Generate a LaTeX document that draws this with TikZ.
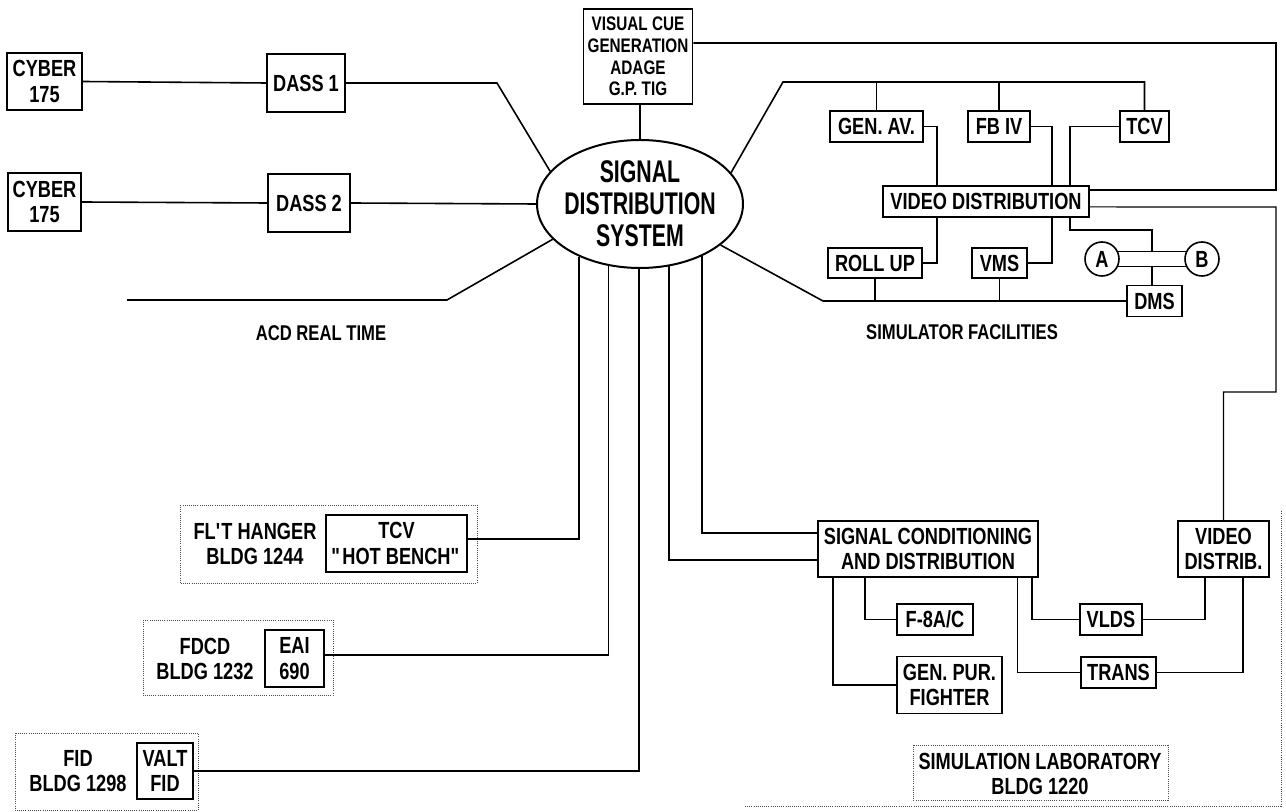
\documentclass[tikz,border=0pt]{standalone}
\usepackage{fontspec}
\setmainfont{Liberation Sans}[FakeStretch=0.78]
\usetikzlibrary{shapes.geometric,calc}

\tikzset{
  wire/.style={line width=1.2pt},
  link/.style={line width=0.8pt},
  lbl/.style={font=\bfseries\fontsize{17.5}{19}\selectfont, align=center, inner sep=0pt},
  unit/.style={lbl, draw, line width=1.2pt},
  hub/.style={ellipse, draw, line width=1.5pt, minimum width=154.5pt, minimum height=96pt,
    inner xsep=-15pt, inner ysep=-5pt, align=center,
    font=\addfontfeatures{FakeStretch=0.68}\bfseries\fontsize{23.5}{24}\selectfont},
  port/.style={lbl, circle, draw, line width=1.2pt, minimum size=25.5pt},
  bldg/.style={densely dotted, line width=0.6pt, black!70},
}

\begin{document}
\begin{tikzpicture}[x=0.75pt,y=0.75pt,yscale=-1,xscale=1]
\useasboundingbox (0,0) rectangle (1286,812);

%Shape: Ellipse
\draw (640,204) node [hub] (sds) {SIGNAL\\DISTRIBUTION\\SYSTEM};

%Shape: Rectangle (left side)
\draw (44.5,81.5) node [unit, minimum width=56pt, minimum height=43pt] (cyberA) {CYBER\\175};
\draw (44.5,202) node [unit, minimum width=55pt, minimum height=43.5pt] (cyberB) {CYBER\\175};
\draw (306,83) node [unit, minimum width=58.5pt, minimum height=43.5pt] (dassA) {DASS 1};
\draw (309,203) node [unit, minimum width=61.5pt, minimum height=43.5pt] (dassB) {DASS 2};
\draw (638,56.5) node [unit, minimum width=82pt, minimum height=71pt, font=\bfseries\fontsize{14.7}{16.3}\selectfont] (cue) {VISUAL CUE\\GENERATION\\ADAGE\\G.P. TIG};

%Shape: Rectangle (simulator facilities)
\draw (876.5,126.5) node [unit, minimum width=70pt, minimum height=23pt] (genav) {GEN. AV.};
\draw (999,126.5) node [unit, minimum width=46.5pt, minimum height=23pt] (fbiv) {FB IV};
\draw (1144.5,126.5) node [unit, minimum width=37pt, minimum height=23pt] (tcv) {TCV};
\draw (986,201.5) node [unit, minimum width=154.5pt, minimum height=23pt] (vdist) {VIDEO DISTRIBUTION};
\draw (875,263) node [unit, minimum width=70.5pt, minimum height=22.5pt] (rollup) {ROLL UP};
\draw (999.5,263) node [unit, minimum width=41pt, minimum height=22.5pt] (vms) {VMS};
\draw (1154.5,301) node [unit, minimum width=41pt, minimum height=23pt] (dms) {DMS};
\draw (1102,259) node [port] (circA) {A};
\draw (1202,259) node [port] (circB) {B};

%Shape: Rectangle (simulation laboratory)
\draw (928,549) node [unit, minimum width=165pt, minimum height=42pt] (sigcond) {SIGNAL CONDITIONING\\AND DISTRIBUTION};
\draw (935,619.5) node [unit, minimum width=57pt, minimum height=23pt] (f8) {F-8A/C};
\draw (949.5,685) node [unit, minimum width=79pt, minimum height=43pt] (gpf) {GEN. PUR.\\FIGHTER};
\draw (1111,619.5) node [unit, minimum width=46.5pt, minimum height=23pt] (vlds) {VLDS};
\draw (1118.5,672.5) node [unit, minimum width=56pt, minimum height=23pt] (trans) {TRANS};
\draw (1223.5,549) node [unit, minimum width=68pt, minimum height=42pt] (vdistrib) {VIDEO\\DISTRIB.};

%Shape: Rectangle (remote buildings)
\draw (396.5,543.5) node [unit, minimum width=106pt, minimum height=43pt] (hotbench) {TCV\\\textquotedbl HOT BENCH\textquotedbl};
\draw (294.5,658.5) node [unit, minimum width=44pt, minimum height=43pt] (eai) {EAI\\690};
\draw (165,771) node [unit, minimum width=42pt, minimum height=42pt] (valt) {VALT\\FID};

% Text Node
\draw (321,333) node [lbl, font=\bfseries\fontsize{16}{18}\selectfont] (acd) {ACD REAL TIME};
\draw (962,332) node [lbl, font=\bfseries\fontsize{16}{18}\selectfont] (simfac) {SIMULATOR FACILITIES};
\draw (255,544) node [lbl] (flt) {FL\textquotesingle T HANGER\\BLDG 1244};
\draw (205,659) node [lbl] (fdcd) {FDCD\\BLDG 1232};
\draw (78,771) node [lbl] (fid) {FID\\BLDG 1298};
\draw (1040,774) node [lbl] (simlab) {SIMULATION LABORATORY\\BLDG 1220};

%Shape: building outlines
\draw [bldg] (180,505) rectangle (477,583);
\draw [bldg] (143,620) rectangle (333,695);
\draw [bldg] (15,733) rectangle (198,810);
\draw [bldg] (913,745) rectangle (1168,800);
\draw [bldg] (745,806) -- (1281,806) -- (1281,510);

% bend points
\coordinate (dA) at (497,83);
\coordinate (acdL) at (127,300);
\coordinate (acdK) at (447,300);
\coordinate (sfK) at (783,82);
\coordinate (busK) at (823,301);
\coordinate (cueR) at (1276,43);
\coordinate (vdR) at (1276,207);
\coordinate (vdJ) at (1276,392);
\coordinate (gX) at (937,0);
\coordinate (fX) at (1052,0);
\coordinate (tX) at (1070,0);
\coordinate (tDrop) at (1070,230);
\coordinate (abU) at ($(circA.24)!.5!(circB.156)$);
\coordinate (abL) at ($(circA.-24)!.5!(circB.-156)$);

%Straight Lines (computers)
\draw [wire] (cyberA.east) -- (dassA.west);
\draw [wire] (dassA.east) -- (dA) -- (sds.160);
\draw [wire] (cyberB.east) -- (dassB.west);
\draw [wire] (dassB.east) -- (sds.west);
\draw [wire] (acdL) -- (acdK) -- (sds.202);
\draw [wire] (sds.north) -- (sds.north |- cue.south);
\draw [wire] ([yshift=-10.1pt]cue.east) -- (cueR) |- ([yshift=-8.6pt]vdist.east);

%Straight Lines (simulator facilities)
\draw [wire] (sds.19) -- (sfK) -| (tcv.north);
\draw [wire] (genav.north) -- (genav.north |- sfK);
\draw [wire] (fbiv.north) -- (fbiv.north |- sfK);
\draw [link] (genav.east) -| (gX |- vdist.north);
\draw [link] (gX |- vdist.south) |- (rollup.east);
\draw [link] (fbiv.east) -| (fX |- vdist.north);
\draw [link] (fX |- vdist.south) |- (vms.east);
\draw [link] (tcv.west) -| (tX |- vdist.north);
\draw [link] (tX |- vdist.south) -- (tDrop) -| (abU);
\draw [link] (circA.24) -- (circB.156);
\draw [link] (circA.-24) -- (circB.-156);
\draw [link] (abL) -- (abL |- dms.north);
\draw [wire] (sds.-27) -- (busK) -- (dms.west);
\draw [wire] (rollup.south) -- (rollup.south |- busK);
\draw [wire] (vms.south) -- (vms.south |- busK);
\draw [link] ([yshift=4.1pt]vdist.east) -- (vdR) -- (vdJ) -| (vdistrib.north);

%Straight Lines (buildings)
\draw [wire] (sds.221) |- ([yshift=-3.4pt]hotbench.east);
\draw [wire] (sds.243) |- ([yshift=-2.6pt]eai.east);
\draw [wire] (sds.269) |- (valt.east);
\draw [wire] (sds.295) |- ([yshift=8.25pt]sigcond.west);
\draw [wire] (sds.320) |- ([yshift=-12pt]sigcond.west);

%Straight Lines (simulation laboratory)
\draw [wire] ([xshift=12pt]sigcond.south west) |- (gpf.west);
\draw [wire] ([xshift=36pt]sigcond.south west) |- (f8.west);
\draw [wire] ([xshift=-5pt]sigcond.south east) |- (vlds.west);
\draw [wire] ([xshift=-16pt]sigcond.south east) |- (trans.west);
\draw [wire] (vlds.east) -| ([xshift=-14pt]vdistrib.south);
\draw [wire] (trans.east) -| ([xshift=14.6pt]vdistrib.south);

\end{tikzpicture}
\end{document}
